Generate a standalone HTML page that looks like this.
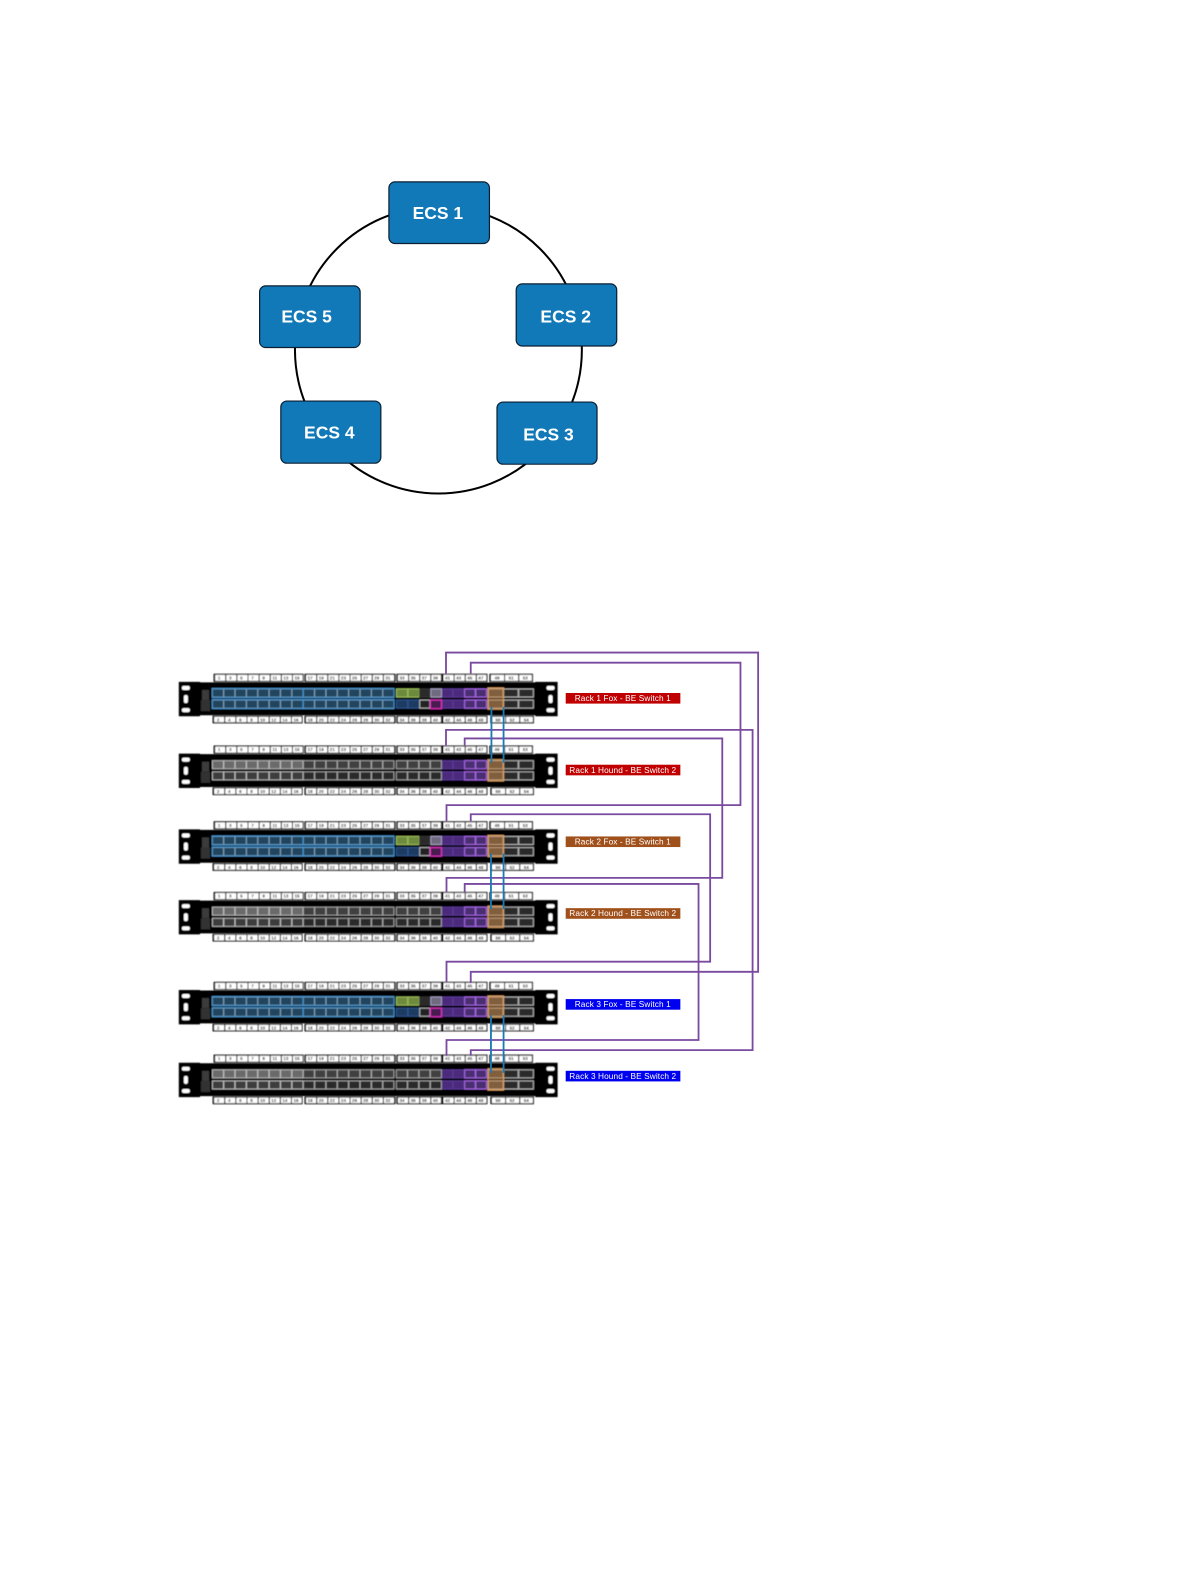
<!DOCTYPE html>
<html><head><meta charset="utf-8"><style>
html,body{margin:0;padding:0;background:#fff}
svg{display:block}
.e{font:bold 17.300px "Liberation Sans",sans-serif;fill:#fff;text-anchor:middle}
.n{font:bold 4.500px "Liberation Sans",sans-serif;fill:#111;text-anchor:middle}
.r{font:8.200px "Liberation Sans",sans-serif;fill:#fff;text-anchor:middle;letter-spacing:.1px}
</style></head><body>
<svg width="1191" height="1584" viewBox="0 0 1179 1568" xmlns="http://www.w3.org/2000/svg">
<defs>
<filter id="b" x="-2%" y="-10%" width="104%" height="120%"><feGaussianBlur stdDeviation="0.4"/></filter>
<g id="p4"><rect x="0.300" width="10.900" height="8"/><rect x="11.550" width="10.900" height="8"/><rect x="22.800" width="10.900" height="8"/><rect x="34.050" width="10.900" height="8"/></g>
<g id="p8"><use href="#p4"/><use href="#p4" x="45"/></g>
<g id="p3"><rect x="0.500" width="14.500" height="8"/><rect x="15.500" width="14.500" height="8"/><rect x="30.500" width="14.500" height="8"/></g>
<g id="base">
<path d="M177 0h21v0.500h332v-0.500h22v34h-22v-1h-332v1h-21z" fill="#000"/>
<g fill="#fff"><rect x="180" y="4" width="8" height="4" rx="2"/><rect x="182" y="13" width="4" height="8" rx="2"/><rect x="180" y="26" width="8" height="4" rx="2"/><rect x="541" y="4" width="8" height="4" rx="2"/><rect x="543" y="13" width="4" height="8" rx="2"/><rect x="541" y="26" width="8" height="4" rx="2"/></g>
<rect x="200" y="8" width="7" height="10" fill="#3a3a3a"/><rect x="199" y="18" width="9" height="11" fill="#333"/>
<g fill="#fff" stroke="#000" stroke-width="1.100">
<rect x="212" y="-7.500" width="88" height="7"/><rect x="302" y="-7.500" width="89" height="7"/><rect x="393" y="-7.500" width="44" height="7"/><rect x="438" y="-7.500" width="44" height="7"/><rect x="485" y="-7.500" width="42" height="7"/>
<rect x="211" y="34" width="88" height="6.500"/><rect x="302" y="34" width="89" height="6.500"/><rect x="393" y="34" width="44" height="6.500"/><rect x="438" y="34" width="44" height="6.500"/><rect x="486" y="34" width="42" height="6.500"/>
</g>
<g stroke="#000" stroke-width="6.500" stroke-dasharray="1 10" fill="none">
<path d="M212-4h88M302-4h89M393-4h44M438-4h44M211 37.200h88M302 37.200h89M393 37.200h44M438 37.200h44"/>
<path d="M485-4h42M486 37.200h42" stroke-dasharray="1 13"/>
</g>
<text class="n" y="-2.500"><tspan x="217">1</tspan><tspan x="228">3</tspan><tspan x="239">5</tspan><tspan x="250">7</tspan><tspan x="261">9</tspan><tspan x="272">11</tspan><tspan x="283">13</tspan><tspan x="294">15</tspan><tspan x="307">17</tspan><tspan x="318">19</tspan><tspan x="329">21</tspan><tspan x="340">23</tspan><tspan x="351">25</tspan><tspan x="362">27</tspan><tspan x="373">29</tspan><tspan x="384">31</tspan><tspan x="398">33</tspan><tspan x="409">35</tspan><tspan x="420">37</tspan><tspan x="431">39</tspan><tspan x="443">41</tspan><tspan x="454">43</tspan><tspan x="465">45</tspan><tspan x="476">47</tspan><tspan x="492">49</tspan><tspan x="506">51</tspan><tspan x="520">53</tspan></text>
<text class="n" y="39"><tspan x="216">2</tspan><tspan x="227">4</tspan><tspan x="238">6</tspan><tspan x="249">8</tspan><tspan x="260">10</tspan><tspan x="271">12</tspan><tspan x="282">14</tspan><tspan x="293">16</tspan><tspan x="307">18</tspan><tspan x="318">20</tspan><tspan x="329">22</tspan><tspan x="340">24</tspan><tspan x="351">26</tspan><tspan x="362">28</tspan><tspan x="373">30</tspan><tspan x="384">32</tspan><tspan x="398">34</tspan><tspan x="409">36</tspan><tspan x="420">38</tspan><tspan x="431">40</tspan><tspan x="443">42</tspan><tspan x="454">44</tspan><tspan x="465">46</tspan><tspan x="476">48</tspan><tspan x="493">50</tspan><tspan x="507">52</tspan><tspan x="521">54</tspan></text>
<use href="#p4" x="437" y="7" fill="#4b2c7c" stroke="#5c3a96"/>
<use href="#p4" x="437" y="18" fill="#4b2c7c" stroke="#5c3a96"/>
<g fill="#4a2f70" stroke="#a868e8"><rect x="460" y="7" width="10.500" height="8"/><rect x="471" y="7" width="10.500" height="8"/><rect x="460" y="18" width="10.500" height="8"/><rect x="471" y="18" width="10.500" height="8"/></g>
<use href="#p3" x="483" y="7" fill="#2c2c2c" stroke="#b4b4b4"/>
<use href="#p3" x="483" y="18" fill="#2c2c2c" stroke="#b4b4b4"/>
<rect x="483" y="6" width="15.500" height="21" fill="#c98a4a" fill-opacity=".55" stroke="#e0a060"/>
</g>
<g id="fox"><use href="#base"/>
<g fill="#24445f" stroke="#7f9fb5" stroke-width="0.800">
<use href="#p8" x="210" y="7"/><use href="#p8" x="210" y="18"/><use href="#p8" x="300" y="7"/><use href="#p8" x="300" y="18"/></g>
<g fill="none" stroke="#3f92d0" stroke-width="1"><rect x="210" y="6.500" width="90" height="9"/><rect x="210" y="17.500" width="90" height="9"/><rect x="300" y="6.500" width="90" height="9"/><rect x="300" y="17.500" width="90" height="9"/></g>
<g fill="#6d8a3c" stroke="#9cbc5a"><rect x="392.500" y="7" width="11" height="8"/><rect x="404" y="7" width="11" height="8"/></g>
<g fill="#1f3a60" stroke="#2f5590"><rect x="392.500" y="18" width="11" height="8"/><rect x="404" y="18" width="11" height="8"/></g>
<rect x="415.500" y="7" width="10" height="8" fill="#2a2a2a" stroke="#333"/><rect x="415.500" y="18" width="10" height="8" fill="#222" stroke="#bbb"/>
<rect x="426.500" y="7" width="10.500" height="8" fill="#6f6a80" stroke="#a5a0c0"/><rect x="426" y="18" width="11" height="8.500" fill="#4a1c50" stroke="#e030c0" stroke-width="1.200"/>
</g>
<g id="hound"><use href="#base"/>
<use href="#p8" x="210" y="7" fill="#6a6a6a" stroke="#c0c0c0" stroke-width=".9"/><use href="#p8" x="210" y="18" fill="#3c3c3c" stroke="#c0c0c0" stroke-width=".9"/>
<g stroke="#ababab" stroke-width=".9"><use href="#p8" x="300" y="7" fill="#404040"/><use href="#p8" x="300" y="18" fill="#2c2c2c"/><use href="#p4" x="392" y="7" fill="#404040"/><use href="#p4" x="392" y="18" fill="#2c2c2c"/></g>
</g>
</defs>

<circle cx="434" cy="346.500" r="142" fill="none" stroke="#000" stroke-width="2"/>
<g fill="#1279b8" stroke="#0b1f33" stroke-width="1.200">
<rect x="385" y="180" width="99.500" height="61" rx="6"/>
<rect x="511" y="281" width="99.500" height="61.500" rx="6"/>
<rect x="492" y="398" width="99" height="61.500" rx="6"/>
<rect x="278" y="397" width="99" height="61.500" rx="6"/>
<rect x="257" y="283" width="99.500" height="61" rx="6"/>
</g>
<text class="e" x="433.500" y="217">ECS 1</text>
<text class="e" x="560" y="319">ECS 2</text>
<text class="e" x="543" y="436">ECS 3</text>
<text class="e" x="326" y="434">ECS 4</text>
<text class="e" x="303.500" y="319">ECS 5</text>

<g filter="url(#b)">
<use href="#fox" y="675"/>
<use href="#hound" y="746"/>
<use href="#fox" y="821"/>
<use href="#hound" y="891"/>
<use href="#fox" y="980"/>
<use href="#hound" y="1052"/>
</g>

<g fill="none" stroke="#7a4aa0" stroke-width="1.800">
<path d="M441.500 667V646H750.500V962H466V973"/>
<path d="M466 667V656H733V797H442V813"/>
<path d="M441.500 738V722.500H745V1039.500H466V1045"/>
<path d="M460 738V731H715V869H442V883"/>
<path d="M466 813V806H703V952H442V972"/>
<path d="M460 883V875H691.500V1029.500H442V1045"/>
</g>
<g fill="none" stroke="#1d78b4" stroke-width="1.800">
<path d="M486.500 700V755M498.500 700V755"/>
<path d="M486 845V900M498.500 845V900"/>
<path d="M486 1005V1062M498.500 1005V1062"/>
</g>

<g>
<rect x="560" y="686" width="113.500" height="10.500" fill="#c00000"/>
<rect x="560" y="757" width="113.500" height="10.500" fill="#c00000"/>
<rect x="560" y="828" width="113.500" height="10.500" fill="#a0501a"/>
<rect x="560" y="899" width="113.500" height="10.500" fill="#a0501a"/>
<rect x="560" y="989" width="113.500" height="10.500" fill="#0000f0"/>
<rect x="560" y="1060" width="113.500" height="10.500" fill="#0000f0"/>
</g>
<text class="r" x="616.500" y="694">Rack 1 Fox - BE Switch 1</text>
<text class="r" x="616.500" y="765">Rack 1 Hound - BE Switch 2</text>
<text class="r" x="616.500" y="836">Rack 2 Fox - BE Switch 1</text>
<text class="r" x="616.500" y="907">Rack 2 Hound - BE Switch 2</text>
<text class="r" x="616.500" y="997">Rack 3 Fox - BE Switch 1</text>
<text class="r" x="616.500" y="1068">Rack 3 Hound - BE Switch 2</text>
</svg>
</body></html>
